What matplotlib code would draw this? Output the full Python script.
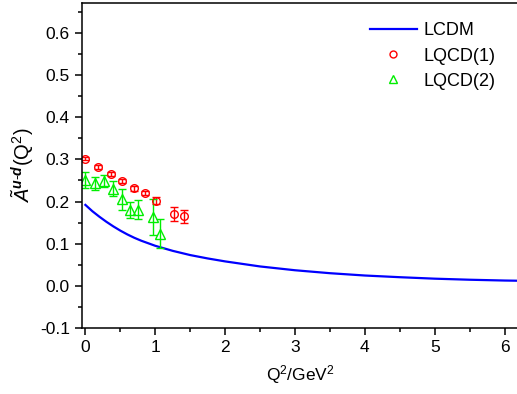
import numpy as np
import matplotlib
matplotlib.use('Agg')
import matplotlib.pyplot as plt
from matplotlib.lines import Line2D
from matplotlib.ticker import MultipleLocator, FormatStrFormatter

plt.rcParams['font.family'] = ['Liberation Sans', 'DejaVu Sans']
plt.rcParams['mathtext.fontset'] = 'custom'
plt.rcParams['mathtext.rm'] = 'Liberation Sans'
plt.rcParams['mathtext.it'] = 'Liberation Sans:italic'
plt.rcParams['mathtext.bf'] = 'Liberation Sans:bold'
plt.rcParams['mathtext.bfit'] = 'Liberation Sans:bold:italic'
plt.rcParams['axes.unicode_minus'] = False

# LCDM curve
lcdm_q2 = [0.0, 0.1, 0.2, 0.3, 0.4, 0.5, 0.6, 0.7, 0.8, 0.9, 1.0, 1.25, 1.5, 1.75,
           2.0, 2.5, 3.0, 3.5, 4.0, 4.5, 5.0, 5.5, 6.0, 6.25]
lcdm_a = [0.192, 0.177, 0.164, 0.152, 0.141, 0.131, 0.122, 0.114, 0.107, 0.101,
          0.095, 0.083, 0.073, 0.065, 0.058, 0.046, 0.037, 0.030, 0.0245, 0.0205,
          0.017, 0.0145, 0.0126, 0.012]

# LQCD(1) points
lq1_q2 = [0.0, 0.185, 0.363, 0.524, 0.696, 0.854, 1.005, 1.274, 1.41]
lq1_a = [0.302, 0.282, 0.265, 0.249, 0.231, 0.220, 0.202, 0.170, 0.165]
lq1_err = [0.004, 0.004, 0.004, 0.004, 0.005, 0.005, 0.008, 0.016, 0.016]

# LQCD(2) points
lq2_q2 = [0.0, 0.138, 0.27, 0.40, 0.52, 0.64, 0.76, 0.97, 1.075]
lq2_a = [0.252, 0.243, 0.248, 0.230, 0.205, 0.181, 0.181, 0.164, 0.124]
lq2_err = [0.019, 0.015, 0.014, 0.018, 0.025, 0.019, 0.023, 0.043, 0.035]

red = '#ff0000'
green = '#00ee00'
blue = '#0000ff'

fig = plt.figure(figsize=(5.17, 3.94), dpi=100)
ax = fig.add_axes([0.158, 0.1675, 0.845, 0.825])

ax.plot(lcdm_q2, lcdm_a, color=blue, lw=1.6)
ax.errorbar(lq1_q2, lq1_a, yerr=lq1_err, fmt='o', mfc='none', mec=red,
            ecolor=red, ms=5.5, mew=1.0, elinewidth=1.0, capsize=3,
            capthick=1.0)
ax.errorbar(lq2_q2, lq2_a, yerr=lq2_err, fmt='^', mfc='none', mec=green,
            ecolor=green, ms=7, mew=1.0, elinewidth=1.0, capsize=3,
            capthick=1.0)

ax.set_xlim(-0.053, 6.2)
ax.set_ylim(-0.1, 0.671)
ax.xaxis.set_major_locator(MultipleLocator(1))
ax.xaxis.set_minor_locator(MultipleLocator(0.5))
ax.yaxis.set_major_locator(MultipleLocator(0.1))
ax.yaxis.set_minor_locator(MultipleLocator(0.05))
ax.yaxis.set_major_formatter(FormatStrFormatter('%.1f'))
ax.tick_params(which='both', direction='out', top=False, right=False,
               labelsize=12.5, width=1.1)
ax.tick_params(which='major', length=5)
ax.tick_params(which='minor', length=3)
for s in ax.spines.values():
    s.set_linewidth(1.1)

ax.set_xlabel(r'Q$^2$/GeV$^2$', fontsize=12.5, labelpad=6)
ax.set_ylabel(r'$\tilde{A}^{\mathbfit{u}\text{-}\mathbfit{d}}$(Q$^2$)', fontsize=14.5, labelpad=3)

handles = [
    Line2D([], [], color=blue, lw=1.6),
    Line2D([], [], ls='none', marker='o', mfc='none', mec=red, ms=5, mew=1.0),
    Line2D([], [], ls='none', marker='^', mfc='none', mec=green, ms=6, mew=1.0),
]
ax.legend(handles, ['LCDM', 'LQCD(1)', 'LQCD(2)'], loc='upper right',
          bbox_to_anchor=(0.985, 0.99), frameon=False, fontsize=13,
          handlelength=2.6, handletextpad=0.4, labelspacing=0.45, numpoints=1)

fig.savefig('out.png', dpi=100)
